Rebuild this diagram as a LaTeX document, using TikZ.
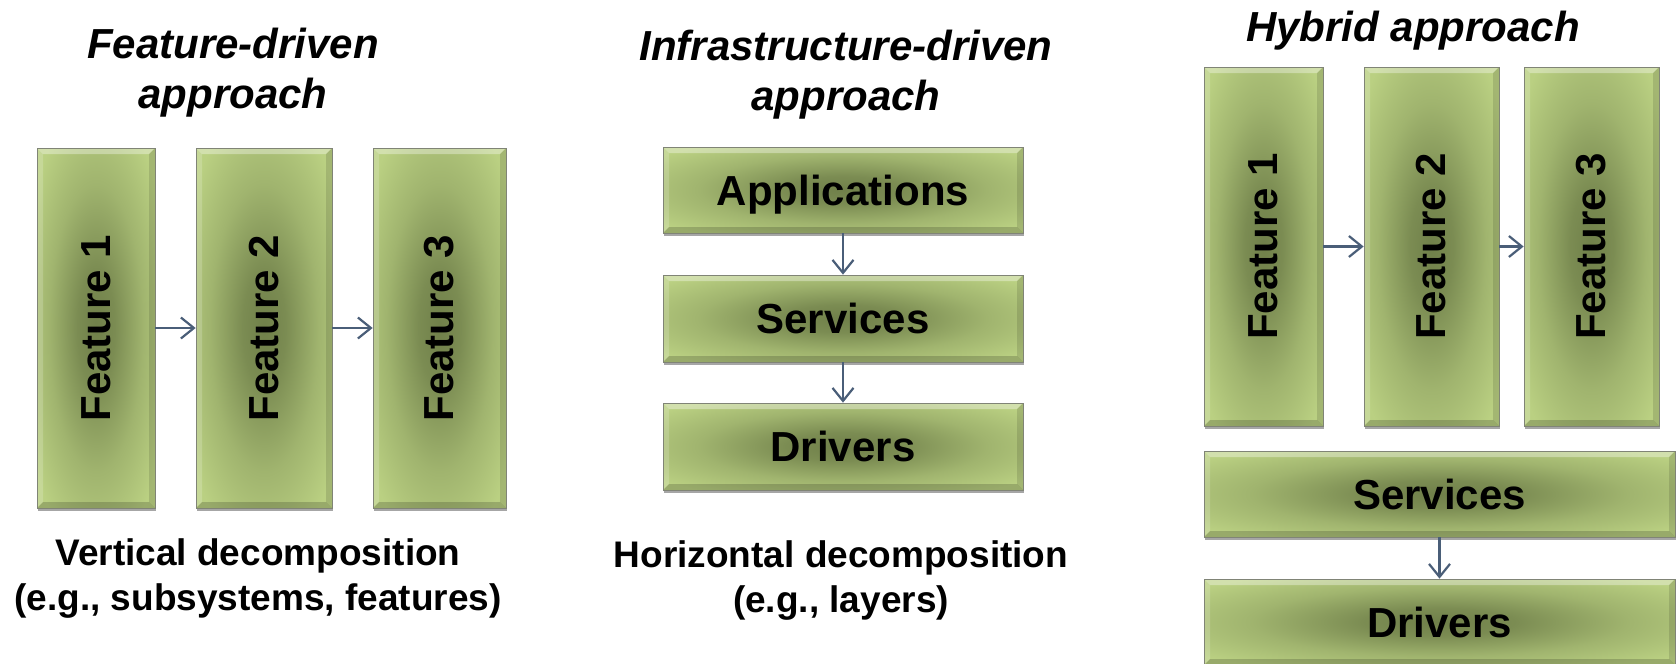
\documentclass[tikz,border=0pt]{standalone}
\usepackage{fontspec}
\setmainfont{Liberation Sans}
\usetikzlibrary{arrows.meta,shadows}
\definecolor{glight}{RGB}{186,208,130}
\definecolor{gdark}{RGB}{112,128,74}
\definecolor{arrowc}{RGB}{74,94,120}
\definecolor{bordc}{RGB}{128,132,118}
\pgfdeclareradialshading{glow}{\pgfpointorigin}{color(0bp)=(gdark); color(8bp)=(gdark!85!glight); color(20bp)=(gdark!35!glight); color(32bp)=(glight); color(75bp)=(glight)}
\tikzset{
  bevel/.style={path picture={
    \fill[white,opacity=.35] (path picture bounding box.north west) -- (path picture bounding box.north east)
      -- ([shift={(-6pt,-6pt)}]path picture bounding box.north east) -- ([shift={(6pt,-6pt)}]path picture bounding box.north west) -- cycle;
    \fill[white,opacity=.18] (path picture bounding box.north west) -- (path picture bounding box.south west)
      -- ([shift={(6pt,6pt)}]path picture bounding box.south west) -- ([shift={(6pt,-6pt)}]path picture bounding box.north west) -- cycle;
    \fill[black,opacity=.18] (path picture bounding box.south west) -- (path picture bounding box.south east)
      -- ([shift={(-6pt,6pt)}]path picture bounding box.south east) -- ([shift={(6pt,6pt)}]path picture bounding box.south west) -- cycle;
    \fill[black,opacity=.12] (path picture bounding box.north east) -- (path picture bounding box.south east)
      -- ([shift={(-6pt,6pt)}]path picture bounding box.south east) -- ([shift={(-6pt,-6pt)}]path picture bounding box.north east) -- cycle;
  }},
  box/.style={shading=glow, draw=bordc, line width=0.7pt, inner sep=0pt, bevel,
    font=\bfseries\fontsize{42}{48}\selectfont,
    drop shadow={shadow xshift=1pt, shadow yshift=-2.5pt, opacity=0.35, fill=black}},
  arr/.style={draw=arrowc, line width=2.2pt, -{Straight Barb[length=13pt,width=21pt,line width=2.2pt]}},
  title/.style={font=\bfseries\itshape\fontsize{42}{50}\selectfont, align=center, anchor=base, inner sep=0pt},
  caption/.style={font=\bfseries\fontsize{37}{45}\selectfont, align=center, anchor=base, inner sep=0pt}
}
\begin{document}
\begin{tikzpicture}[x=1pt,y=-1pt]
\useasboundingbox[fill=white] (0,0) rectangle (1679,664);
% titles (anchor = baseline of last line)
\node[title] (t1) at (233,108) {Feature-driven\\approach};
\node[title] (t2) at (846,110) {Infrastructure-driven\\approach};
\node[title] (t3) at (1413,41) {Hybrid approach};
% left
\node[box, minimum width=118pt, minimum height=360pt] (f1) at (96,328) {\rotatebox{90}{Feature 1}};
\node[box, minimum width=136pt, minimum height=360pt] (f2) at (264,328) {\rotatebox{90}{Feature 2}};
\node[box, minimum width=133pt, minimum height=360pt] (f3) at (439.5,328) {\rotatebox{90}{Feature 3}};
\draw[arr] (f1.east) -- (f2.west);
\draw[arr] (f2.east) -- (f3.west);
% middle
\node[box, minimum width=360pt, minimum height=86pt, text depth=0pt] (app) at (843,190) {Applications};
\node[box, minimum width=360pt, minimum height=87pt] (srv) at (843,318.5) {Services};
\node[box, minimum width=360pt, minimum height=87pt] (drv) at (843,446.5) {Drivers};
\draw[arr] (app.south) -- (srv.north);
\draw[arr] (srv.south) -- (drv.north);
% right
\node[box, minimum width=119pt, minimum height=359pt] (h1) at (1263.5,246.5) {\rotatebox{90}{Feature 1}};
\node[box, minimum width=135pt, minimum height=359pt] (h2) at (1431.5,246.5) {\rotatebox{90}{Feature 2}};
\node[box, minimum width=135pt, minimum height=359pt] (h3) at (1591.5,246.5) {\rotatebox{90}{Feature 3}};
\draw[arr] (h1.east) -- (h2.west);
\draw[arr] (h2.east) -- (h3.west);
\node[box, minimum width=471pt, minimum height=86pt] (hs) at (1439.5,494) {Services};
\node[box, minimum width=471pt, minimum height=86pt] (hd) at (1439.5,622) {Drivers};
\draw[arr] (hs.south) -- (hd.north);
% captions
\node[caption] (c1) at (258,610) {Vertical decomposition\\(e.g., subsystems, features)};
\node[caption] (c2) at (841,612) {Horizontal decomposition\\(e.g., layers)};
\end{tikzpicture}
\end{document}
